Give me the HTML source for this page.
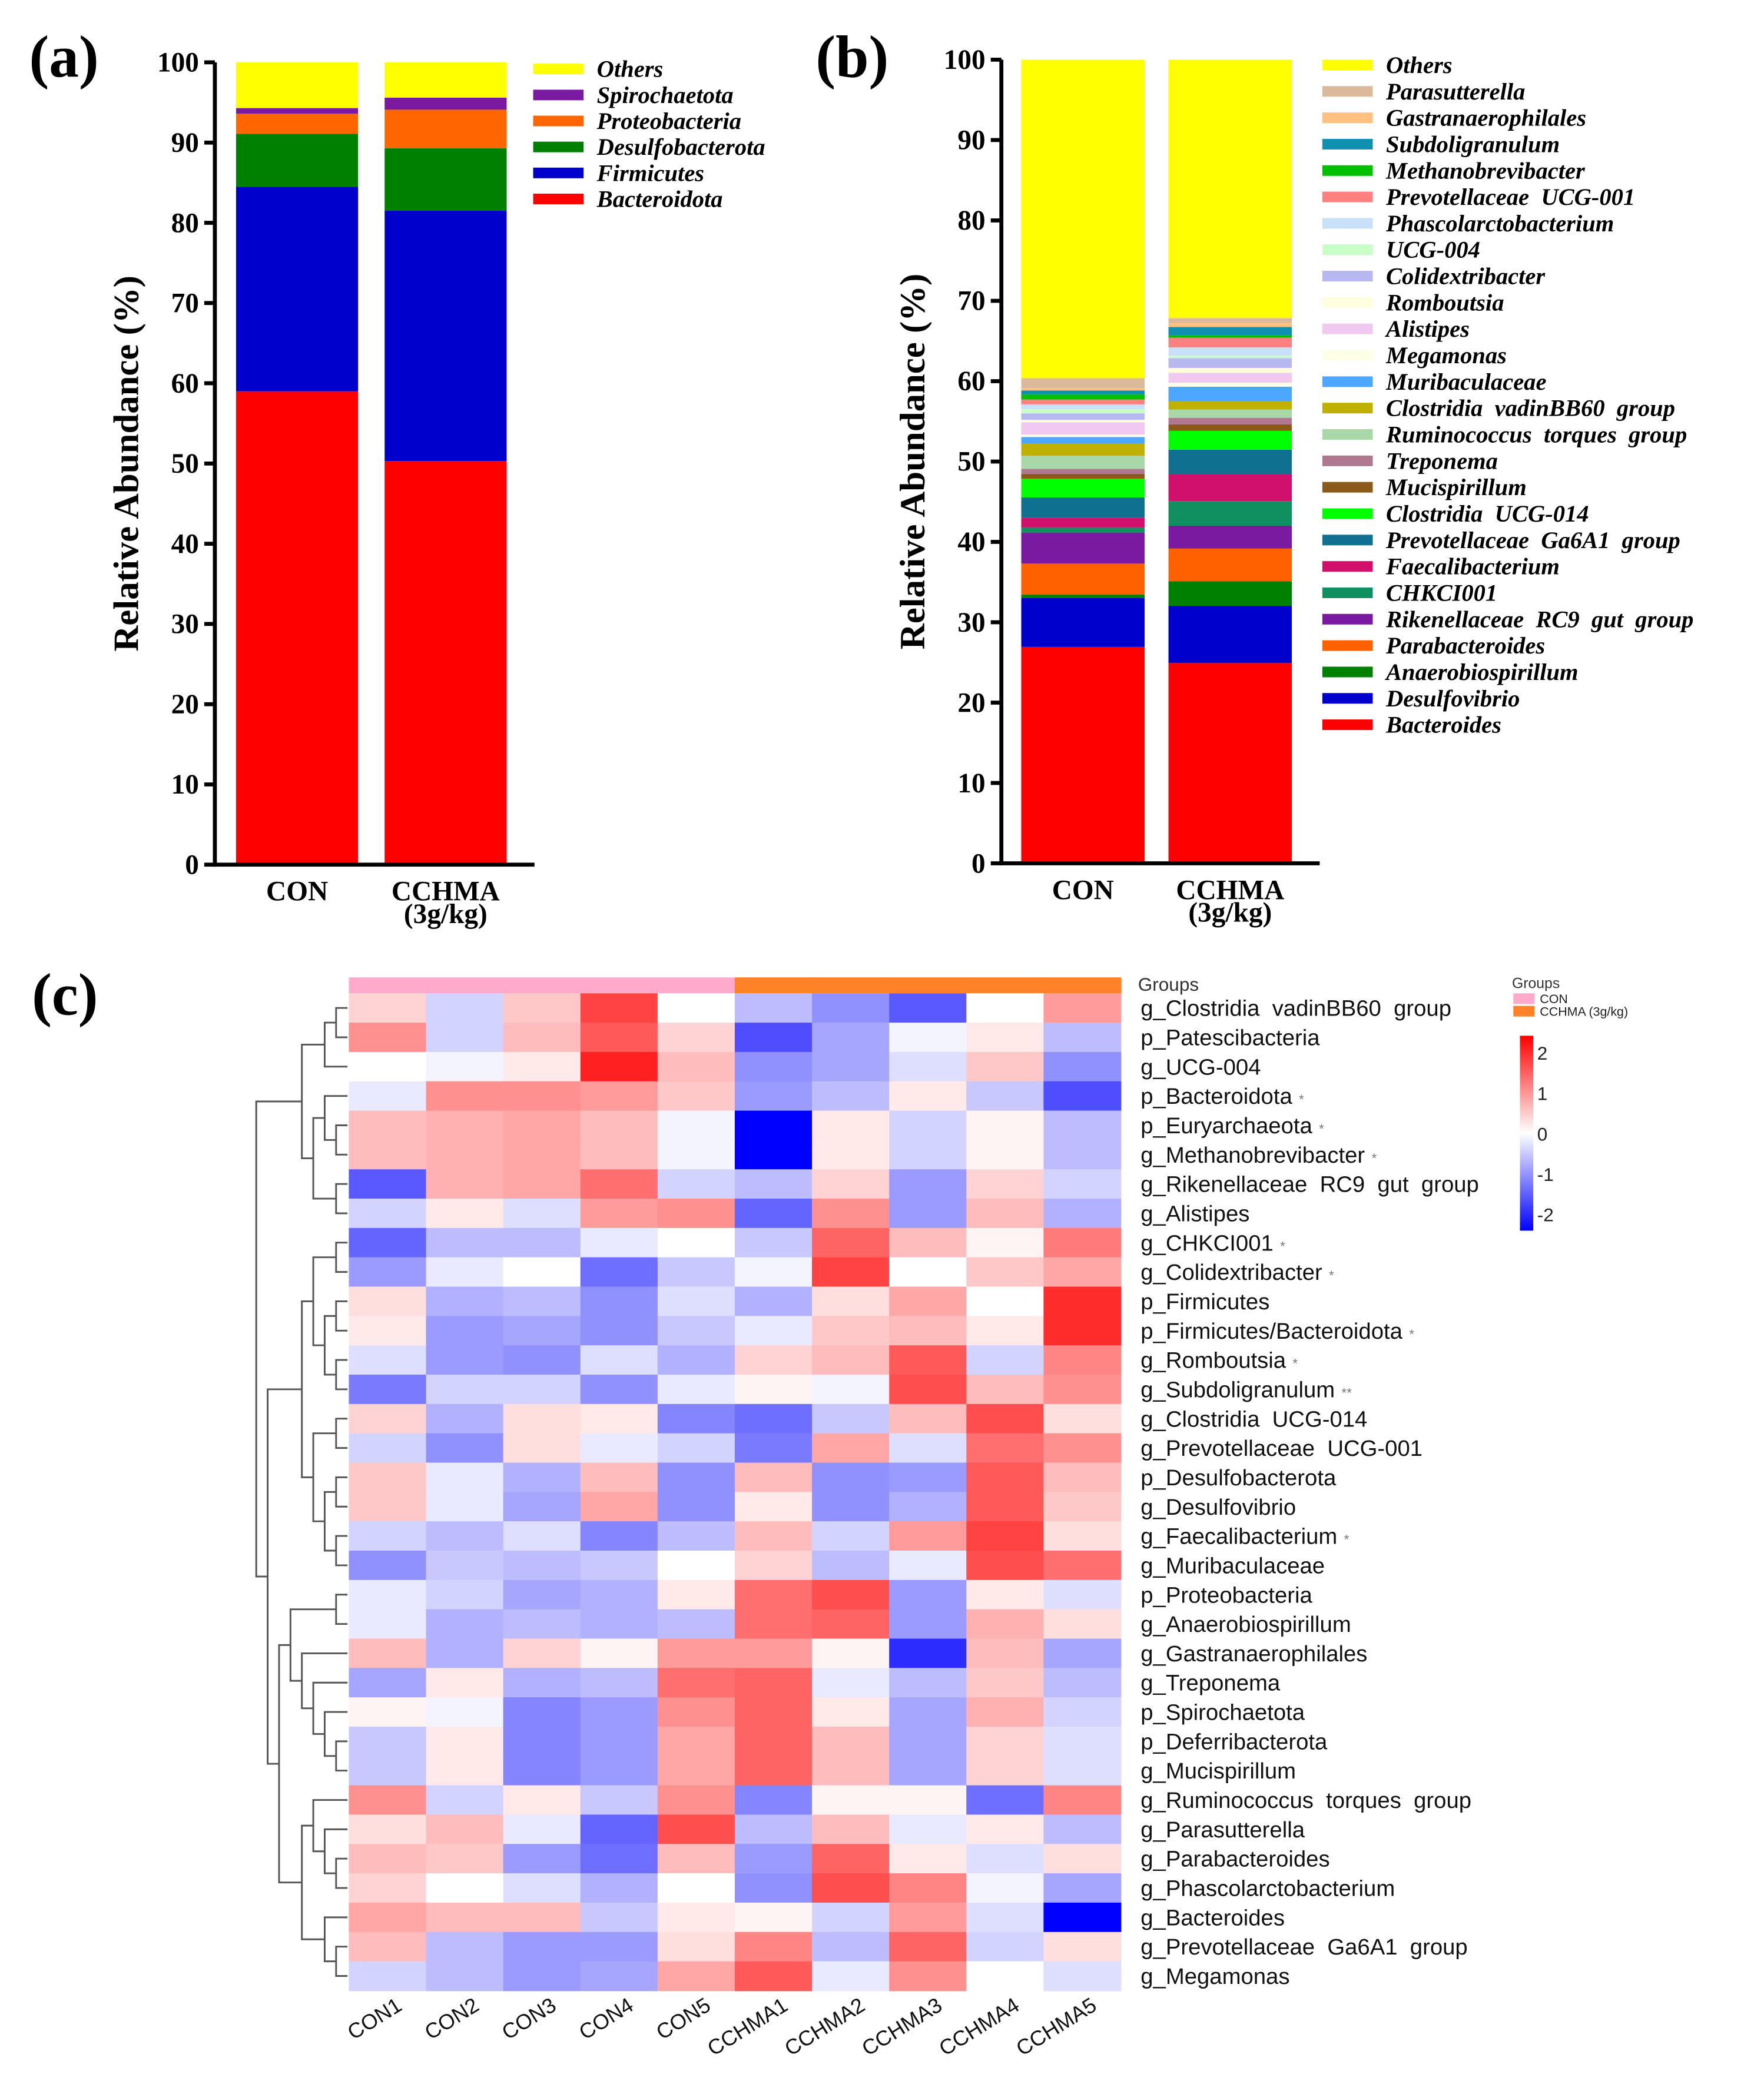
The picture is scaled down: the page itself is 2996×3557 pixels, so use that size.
<!DOCTYPE html>
<html><head><meta charset="utf-8"><style>
html,body{margin:0;padding:0;background:#fff}
svg{display:block}
text{white-space:pre}
.ser{font-family:"Liberation Serif",serif;font-weight:bold}
.leg{font-family:"Liberation Serif",serif;font-weight:bold;font-style:italic;font-size:18px}
.sans{font-family:"Liberation Sans",sans-serif}
</style></head><body>
<svg id="fig" width="2996" height="3557" viewBox="0 0 1330 1579" xmlns="http://www.w3.org/2000/svg">
<rect width="1330" height="1579" fill="#fff"/>
<g id="pa"></g>
<g id="pb"></g>
<g id="pc"></g>
</svg>
<script>
const NS="http://www.w3.org/2000/svg";
// ---------- Panel (a) data ----------
const aGroups=["CON","CCHMA"];
const aTaxa=["Bacteroidota","Firmicutes","Desulfobacterota","Proteobacteria","Spirochaetota","Others"];
const aColors=["#ff0000","#0000cc","#008000","#ff6600","#7a1aa0","#ffff00"];
const aCON=[59,25.5,6.6,2.5,0.7,5.7];
const aCCHMA=[50.3,31.2,7.8,4.8,1.5,4.4];
// ---------- Panel (b) data ----------
const bTaxa=["Bacteroides","Desulfovibrio","Anaerobiospirillum","Parabacteroides","Rikenellaceae  RC9  gut  group","CHKCI001","Faecalibacterium","Prevotellaceae  Ga6A1  group","Clostridia  UCG-014","Mucispirillum","Treponema","Ruminococcus  torques  group","Clostridia  vadinBB60  group","Muribaculaceae","Megamonas","Alistipes","Romboutsia","Colidextribacter","UCG-004","Phascolarctobacterium","Prevotellaceae  UCG-001","Methanobrevibacter","Subdoligranulum","Gastranaerophilales","Parasutterella","Others"];
const bColors=["#ff0000","#0000cc","#008000","#ff6000","#7a1aa0","#109060","#d0106a","#107090","#00ff00","#8b5a1a","#b07890","#a8d8a8","#c0b000","#4da6ff","#ffffe8","#f0c8f0","#ffffe0","#b8b8f0","#c8ffc8","#c8e0f8","#ff8080","#00c000","#1090b0","#ffc080","#dcb99b","#ffff00"];
const bCON=[26.5,6,0.4,3.8,3.8,0.6,1.2,2.5,2.3,0.6,0.6,1.6,1.5,0.8,0.3,1.5,0.3,0.8,0.5,0.6,0.6,0.6,0.5,0.3,1.2,39];
const bCCHMA=[24.5,7,3,4,2.8,3,3.3,3,2.3,0.8,0.8,1,1,1.8,0.5,1.2,0.6,1.2,0.3,1,1.2,0.3,1,0.5,0.6,31.6];
// ---------- Panel (c) data ----------
const hCols=["CON1","CON2","CON3","CON4","CON5","CCHMA1","CCHMA2","CCHMA3","CCHMA4","CCHMA5"];
const hRows=["g_Clostridia  vadinBB60  group","p_Patescibacteria","g_UCG-004","p_Bacteroidota","p_Euryarchaeota","g_Methanobrevibacter","g_Rikenellaceae  RC9  gut  group","g_Alistipes","g_CHKCI001","g_Colidextribacter","p_Firmicutes","p_Firmicutes/Bacteroidota","g_Romboutsia","g_Subdoligranulum","g_Clostridia  UCG-014","g_Prevotellaceae  UCG-001","p_Desulfobacterota","g_Desulfovibrio","g_Faecalibacterium","g_Muribaculaceae","p_Proteobacteria","g_Anaerobiospirillum","g_Gastranaerophilales","g_Treponema","p_Spirochaetota","p_Deferribacterota","g_Mucispirillum","g_Ruminococcus  torques  group","g_Parasutterella","g_Parabacteroides","g_Phascolarctobacterium","g_Bacteroides","g_Prevotellaceae  Ga6A1  group","g_Megamonas"];
const hStars=["","","","*","*","*","","","*","*","","*","*","**","","","","","*","","","","","","","","","","","","","","",""];
const hVals=[
[0.4,-0.4,0.5,1.7,0.0,-0.6,-1.0,-1.5,0.0,0.9],
[1.0,-0.4,0.6,1.5,0.4,-1.6,-0.8,-0.1,0.2,-0.6],
[0.0,-0.1,0.2,2.0,0.6,-1.0,-0.8,-0.3,0.5,-1.0],
[-0.2,1.0,1.0,0.9,0.5,-0.9,-0.6,0.2,-0.5,-1.6],
[0.6,0.7,0.8,0.6,-0.1,-2.3,0.2,-0.4,0.1,-0.6],
[0.6,0.7,0.8,0.6,-0.1,-2.3,0.2,-0.4,0.1,-0.6],
[-1.5,0.7,0.8,1.3,-0.4,-0.6,0.4,-0.9,0.4,-0.4],
[-0.4,0.2,-0.3,0.9,1.0,-1.4,1.0,-0.9,0.6,-0.7],
[-1.4,-0.6,-0.6,-0.2,0.0,-0.5,1.4,0.6,0.1,1.2],
[-0.9,-0.2,0.0,-1.3,-0.5,-0.1,1.7,0.0,0.5,0.8],
[0.3,-0.7,-0.6,-1.0,-0.3,-0.7,0.3,0.8,0.0,1.9],
[0.2,-0.9,-0.8,-1.0,-0.5,-0.2,0.5,0.6,0.2,1.9],
[-0.3,-0.9,-1.0,-0.3,-0.7,0.4,0.6,1.5,-0.4,1.1],
[-1.2,-0.4,-0.4,-1.0,-0.2,0.1,-0.1,1.6,0.6,1.0],
[0.4,-0.7,0.3,0.2,-1.1,-1.3,-0.5,0.6,1.6,0.3],
[-0.4,-1.0,0.3,-0.2,-0.4,-1.2,0.8,-0.3,1.3,1.0],
[0.5,-0.2,-0.7,0.6,-1.0,0.6,-1.0,-0.9,1.5,0.6],
[0.5,-0.2,-0.8,0.8,-1.0,0.2,-1.0,-0.7,1.5,0.5],
[-0.4,-0.6,-0.3,-1.1,-0.6,0.6,-0.4,0.9,1.7,0.3],
[-1.0,-0.5,-0.6,-0.5,0.0,0.4,-0.6,-0.2,1.6,1.3],
[-0.2,-0.4,-0.8,-0.7,0.2,1.3,1.6,-0.9,0.2,-0.3],
[-0.2,-0.7,-0.6,-0.7,-0.6,1.3,1.4,-0.9,0.7,0.3],
[0.6,-0.7,0.4,0.1,0.9,0.9,0.1,-1.9,0.6,-0.8],
[-0.8,0.2,-0.7,-0.6,1.3,1.4,-0.2,-0.6,0.5,-0.6],
[0.1,-0.1,-1.1,-0.9,1.0,1.4,0.2,-0.8,0.7,-0.4],
[-0.5,0.2,-1.1,-0.9,0.8,1.4,0.6,-0.8,0.4,-0.3],
[-0.5,0.2,-1.1,-0.9,0.8,1.4,0.6,-0.8,0.4,-0.3],
[1.0,-0.4,0.2,-0.5,1.0,-1.1,0.1,0.1,-1.3,1.1],
[0.3,0.6,-0.2,-1.4,1.6,-0.6,0.6,-0.2,0.2,-0.6],
[0.6,0.5,-0.9,-1.3,0.6,-0.9,1.4,0.2,-0.3,0.3],
[0.4,0.0,-0.3,-0.7,0.0,-1.0,1.6,1.1,-0.1,-0.8],
[0.8,0.6,0.6,-0.5,0.2,0.1,-0.4,0.9,-0.3,-2.3],
[0.6,-0.6,-0.9,-0.9,0.3,1.1,-0.6,1.4,-0.4,0.3],
[-0.4,-0.6,-0.9,-0.8,0.8,1.5,-0.2,1.0,0.0,-0.3]];
const cbTicks=[2,1,0,-1,-2];

function mk(tag,attrs,parent,text){const e=document.createElementNS(NS,tag);for(const k in attrs)e.setAttribute(k,attrs[k]);if(text!==undefined)e.textContent=text;parent.appendChild(e);return e;}

function stacked(g,opt){
  const y=v=>opt.y0-(opt.y0-opt.y100)*v/100;
  const lab=mk('text',{x:opt.lx,y:opt.ly,'font-size':45,class:'ser'},g,opt.letter);
  
  
  opt.series.forEach((vals,bi)=>{
    const tot=vals.reduce((s,v)=>s+v,0);
    let acc=0;
    vals.forEach((v,i)=>{
      const vv=v*100/tot;
      const r=mk('rect',{x:opt.bx[bi],y:y(acc+vv),width:opt.bw,height:y(acc)-y(acc+vv),fill:opt.colors[i]},g);
      
      
      acc+=vv;
    });
  });
  mk('line',{x1:opt.ax,y1:opt.y100,x2:opt.ax,y2:opt.y0+1.5,stroke:'#000','stroke-width':3},g);
  mk('line',{x1:opt.ax-1.5,y1:opt.y0,x2:opt.axEnd,y2:opt.y0,stroke:'#000','stroke-width':3},g);
  for(let t=0;t<=100;t+=10){
    mk('line',{x1:opt.ax-8,y1:y(t),x2:opt.ax,y2:y(t),stroke:'#000','stroke-width':3},g);
    const tt=mk('text',{x:opt.ax-12,y:y(t)+7,'font-size':21,'text-anchor':'end',class:'ser'},g,t);
    
    
  }
  const yt=mk('text',{transform:`translate(${opt.ax-58},${(opt.y0+opt.y100)/2}) rotate(-90)`,'font-size':27,'text-anchor':'middle',class:'ser'},g,'Relative Abundance (%)');
  
  
  opt.groups.forEach((gn,bi)=>{
    const cx=opt.bx[bi]+opt.bw/2;
    const t=mk('text',{x:cx,y:opt.y0+27,'font-size':21,'text-anchor':'middle',class:'ser'},g,gn);
    
    
    if(bi==1){const t2=mk('text',{x:cx,y:opt.y0+44,'font-size':21,'text-anchor':'middle',class:'ser'},g,'(3g/kg)');
      
      }
  });
  const n=opt.taxa.length;
  for(let k=0;k<n;k++){
    const i=n-1-k;const yy=opt.legY+k*opt.legStep;
    const sw=mk('rect',{x:opt.legX,y:yy-4,width:38,height:8,fill:opt.colors[i]},g);
    
    
    const lt=mk('text',{x:opt.legX+48,y:yy+6,class:'leg'},g,opt.taxa[i]);
    
    
  }
}
stacked(document.getElementById('pa'),{letter:'(a)',lx:22,ly:58,y0:652,y100:47,ax:162,axEnd:403,bx:[178,290],bw:92,series:[aCON,aCCHMA],groups:aGroups,colors:aColors,taxa:aTaxa,legX:402,legY:52,legStep:19.6});
stacked(document.getElementById('pb'),{letter:'(b)',lx:615,ly:58,y0:651,y100:45,ax:755,axEnd:995,bx:[770,881],bw:93,series:[bCON,bCCHMA],groups:aGroups,colors:bColors,taxa:bTaxa,legX:997,legY:49,legStep:19.9});

const pc=document.getElementById('pc');
const letC=mk('text',{x:24,y:765,'font-size':45,class:'ser'},pc,'(c)');


const HX=263,HY=749,CW=58.2,RH=22.12;
function col(v){const t=Math.max(-1,Math.min(1,v/2.3));
  if(t>=0){const c=Math.round(255*(1-t));return `rgb(255,${c},${c})`;}
  const c=Math.round(255*(1+t));return `rgb(${c},${c},255)`;}
hCols.forEach((c,j)=>{
  const gr=mk('rect',{x:HX+j*CW,y:737,width:CW+0.5,height:12,fill:j<5?'#ffaacb':'#ff8228'},pc);
  
  
});
hVals.forEach((row,i)=>row.forEach((v,j)=>{
  const r=mk('rect',{x:HX+j*CW,y:HY+i*RH,width:CW+0.4,height:RH+0.4,fill:col(v)},pc);
  
  
}));
const gl=mk('text',{x:858,y:747,'font-size':14,fill:'#333',class:'sans'},pc,'Groups');


hRows.forEach((n,i)=>{
  const t=mk('text',{x:860,y:HY+i*RH+RH/2+6,'font-size':17,fill:'#111',class:'sans'},pc,n);
  
  
  if(hStars[i]){mk('tspan',{'font-size':10,fill:'#777',dx:5},t,hStars[i]);}
});
hCols.forEach((c,j)=>{
  const cx=HX+j*CW+CW/2+12;
  const t=mk('text',{transform:`translate(${cx},${1515}) rotate(-32)`,'font-size':16,'text-anchor':'end',fill:'#111',class:'sans'},pc,c);
  
  
});
const tree=[[[[0,1],2],[[3,[4,5]],[6,7]]],[[[[8,9],[[10,11],[12,13]]],[[14,15],[[16,17],[18,19]]]],[[[20,21],[22,[23,[24,[25,26]]]]],[[27,[28,[29,30]]],[31,[32,33]]]]]];
function draw(n){
  if(typeof n==='number')return {y:HY+n*RH+RH/2,x:262,h:0};
  const a=draw(n[0]),b=draw(n[1]);
  const h=Math.max(a.h,b.h)+1;const x=262-h*8.6;
  const p=mk('path',{d:`M${a.x},${a.y}H${x}V${b.y}H${b.x}`,fill:'none',stroke:'#555','stroke-width':1.3},pc);
  
  
  return {y:(a.y+b.y)/2,x:x,h:h};
}
draw(tree);
const lg=mk('text',{x:1140,y:745,'font-size':11,fill:'#333',class:'sans'},pc,'Groups');


[['CON','#ffaacb'],['CCHMA (3g/kg)','#ff8228']].forEach((e,k)=>{
  const r=mk('rect',{x:1141,y:749+k*9.5,width:16,height:8,fill:e[1]},pc);
  
  
  const t=mk('text',{x:1161,y:756.5+k*9.5,'font-size':9.5,fill:'#222',class:'sans'},pc,e[0]);
  
  
});
const defs=mk('defs',{},pc);
const lgd=mk('linearGradient',{id:'cb',x1:0,y1:0,x2:0,y2:1},defs);
[[0,'#ff0000'],[0.5,'#ffffff'],[1,'#0000ff']].forEach(s=>mk('stop',{offset:s[0],'stop-color':s[1]},lgd));
const cb=mk('rect',{x:1146,y:781,width:10,height:147,fill:'url(#cb)'},pc);


cbTicks.forEach(v=>{
  const yy=855-v*30.5;
  const t=mk('text',{x:1159,y:yy+5,'font-size':14,fill:'#222',class:'sans'},pc,v);
  
  
});
</script>
</body></html>
